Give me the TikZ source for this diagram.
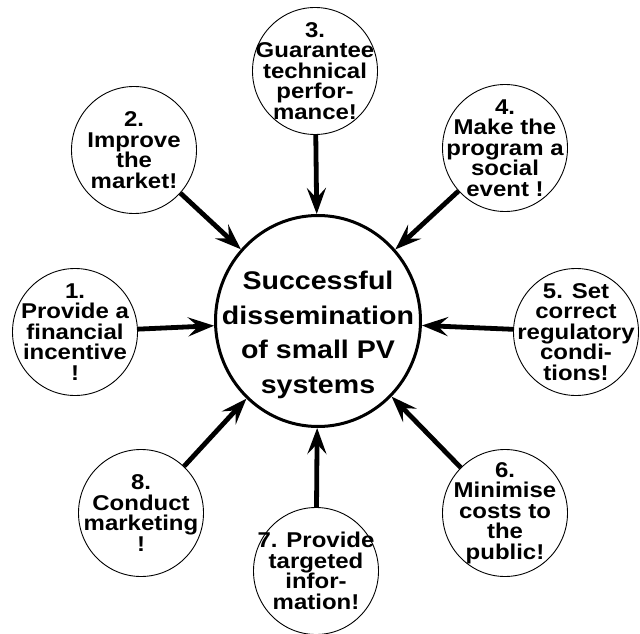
\documentclass[tikz,border=0pt]{standalone}
\usepackage{fontspec}
\setmainfont{Liberation Sans}
\newfontfamily\goalfont[FakeStretch=1.12]{Liberation Sans}
\newfontfamily\hubfont[FakeStretch=1.12]{Liberation Sans}
\usetikzlibrary{shapes.geometric,arrows.meta}

\begin{document}
\begin{tikzpicture}[x=1bp,y=-1bp,
        goal/.style={draw,ellipse,line width=0.9bp,minimum width=125bp,minimum height=127bp,
            inner sep=-30bp,align=center,font=\goalfont\bfseries\fontsize{21.4bp}{20.5bp}\selectfont},
        push/.style={line width=4.8bp,-{Stealth[length=26bp,width=19bp,inset=10bp]}}]
            \useasboundingbox (0,0) rectangle (640,634);

            % centre
            \node[draw,ellipse,line width=3bp,minimum width=205bp,minimum height=211bp] (hub) at (318,321) {};
            \node[align=center,font=\hubfont\bfseries\fontsize{25.5bp}{34.5bp}\selectfont] (hubtext) at (318,335)
                {Successful\\dissemination\\of small PV\\systems};

            % the eight goals
            \node[goal] (g1) at (75,332) {1.\\Provide a\\financial\\incentive\\!};
            \node[goal] (g2) at (134,150) {2.\\Improve\\the\\market!};
            \node[goal] (g3) at (315,71) {3.\\Guarantee\\technical\\perfor-\\mance!};
            \node[goal] (g4) at (505,148) {4.\\Make the\\program a\\social\\event !};
            \node[goal] (g5) at (576,332) {5. Set\\correct\\regulatory\\condi-\\tions!};
            \node[goal] (g6) at (505,513) {6.\\Minimise\\costs to\\the\\public!};
            \node[goal] (g7) at (316,571) {7. Provide\\targeted\\infor-\\mation!};
            \node[goal] (g8) at (141,513) {8.\\Conduct\\marketing\\!};

            \foreach \g in {g1,g2,g3,g4,g5,g6,g7,g8}
                \draw[push] (\g) -- (hub);
        \end{tikzpicture}
\end{document}
